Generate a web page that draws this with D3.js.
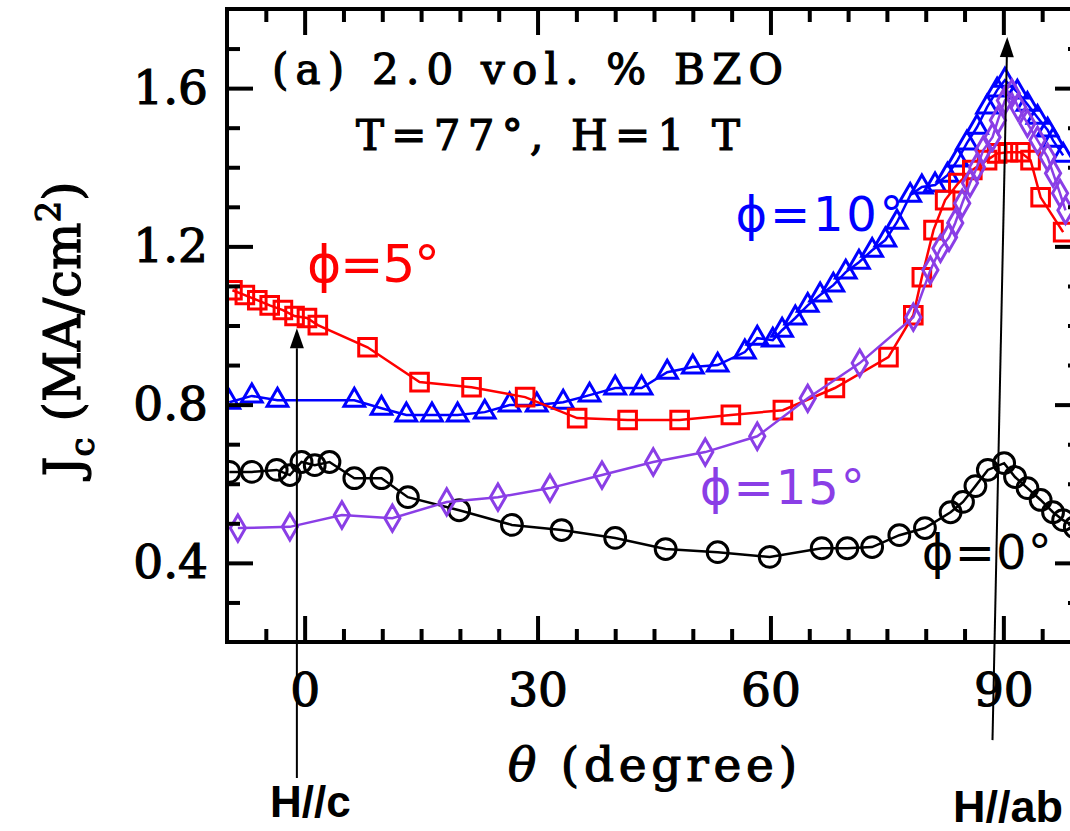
<!DOCTYPE html>
<html>
<head>
<meta charset="utf-8">
<style>
    body { margin: 0; background: #fff; }
    svg { display: block; }
    .axis .domain { display: none; }
    .axis .tick line { stroke: #000; stroke-width: 4; }
    .axis .tick text {
        font-family: 'DejaVu Serif', serif;
        font-size: 47px;
        fill: #000;
        stroke: #000;
        stroke-width: 1.2px;
    }
    .serif { font-family: 'DejaVu Serif', serif; fill: #000; stroke: #000; stroke-width: 1.2px; }
    .phi { font-family: 'DejaVu Sans', sans-serif; font-size: 48px; }
    .hlabel { font-family: 'Liberation Sans', Arial, sans-serif; font-weight: bold; font-size: 44px; fill: #000; }
</style>
</head>
<body>
<svg width="1070" height="831"></svg>

<script src="https://d3js.org/d3.v7.min.js"></script>
<script>
// theta (degree) and Jc (MA/cm^2)
let thetaPhi0 = [-9.7, -6.8, -3.6, -1.9, -0.4, 1.3, 3.2, 6.4, 9.9, 13.3, 19.9, 26.7, 33.1, 40.0, 46.5, 53.2, 59.9,
    66.6, 69.9, 73.1, 76.6, 79.9, 83.2, 84.8, 86.4, 88.0, 90.1, 91.5, 93.1, 94.8, 96.4, 97.7, 99.2]
let jcPhi0 = [0.63, 0.63, 0.635, 0.622, 0.655, 0.647, 0.655, 0.614, 0.614, 0.566, 0.533, 0.496, 0.483, 0.463, 0.435, 0.427, 0.415,
    0.437, 0.437, 0.44, 0.47, 0.488, 0.528, 0.554, 0.594, 0.635, 0.652, 0.617, 0.589, 0.559, 0.528, 0.508, 0.49]

let thetaPhi5 = [-9.3, -7.7, -6.1, -4.5, -2.8, -1.3, 0.3, 1.7, 8.1, 14.8, 21.5, 28.4, 35.1, 41.6, 48.3, 54.9, 61.6, 68.3,
    75.2, 78.4, 79.5, 81.0, 82.5, 84.2, 86.0, 87.9, 89.2, 90.6, 92.2, 93.5, 94.8, 97.7]
let jcPhi5 = [1.089, 1.077, 1.064, 1.051, 1.039, 1.024, 1.019, 1.001, 0.945, 0.857, 0.844, 0.819, 0.766, 0.761, 0.761, 0.774, 0.786, 0.842,
    0.92, 1.026, 1.122, 1.241, 1.317, 1.36, 1.393, 1.418, 1.435, 1.438, 1.438, 1.418, 1.324, 1.236]

let thetaPhi10 = [-9.7, -6.8, -3.5, 6.4, 9.9, 13.1, 16.4, 19.7, 23.2, 26.4, 29.9, 33.3, 36.7, 40.0, 43.4, 46.7, 50.0, 53.2,
    56.7, 58.3, 60.3, 61.5, 63.2, 64.8, 66.4, 68.1, 69.7, 71.4, 73.1, 74.8, 76.3, 78.0, 79.5, 81.2, 82.8, 84.1,
    85.3, 86.6, 87.9, 89.2, 90.2, 91.8, 93.1, 94.4, 95.7, 96.4, 97.7]
let jcPhi10 = [0.806, 0.822, 0.811, 0.811, 0.791, 0.774, 0.774, 0.774, 0.781, 0.799, 0.799, 0.806, 0.824, 0.842, 0.842, 0.882, 0.895, 0.9,
    0.933, 0.968, 0.963, 0.988, 1.019, 1.051, 1.077, 1.102, 1.135, 1.16, 1.19, 1.216, 1.261, 1.329, 1.35, 1.355, 1.38, 1.418,
    1.461, 1.501, 1.552, 1.595, 1.62, 1.59, 1.559, 1.526, 1.494, 1.468, 1.43]

let thetaPhi15 = [-8.6, -1.9, 4.8, 11.3, 18.3, 24.9, 31.6, 38.3, 44.9, 51.6, 58.3, 64.8, 71.5, 78.4, 80.6, 81.9, 83.0,
    83.8, 84.7, 85.7, 86.6, 87.4, 88.6, 89.3, 90.2, 91.1, 91.9, 93.1, 94.4, 95.7, 96.4, 97.3, 98.0]
let jcPhi15 = [0.488, 0.491, 0.521, 0.513, 0.554, 0.566, 0.589, 0.622, 0.655, 0.68, 0.72, 0.816, 0.905, 1.021, 1.14, 1.195, 1.223,
    1.259, 1.309, 1.36, 1.4, 1.443, 1.476, 1.519, 1.569, 1.587, 1.552, 1.511, 1.468, 1.425, 1.385, 1.334, 1.291]

let xMajorTicks = [0, 30, 60, 90]
let yMajorTicks = [0.4, 0.8, 1.2, 1.6]

let svg = d3.select("svg")
let margin = { top: 9, left: 227 }
let plotW = 854, plotH = 633

let x = d3.scaleLinear().domain([-10, 100]).range([margin.left, margin.left + plotW])
let y = d3.scaleLinear().domain([0.2, 1.8]).range([margin.top + plotH, margin.top])

let series = [
    { name: "phi0", th: thetaPhi0, jc: jcPhi0, color: "#000000", symbol: d3.symbolCircle, size: 340 },
    { name: "phi10", th: thetaPhi10, jc: jcPhi10, color: "#0000ff", symbol: d3.symbolTriangle, size: 185 },
    { name: "phi5", th: thetaPhi5, jc: jcPhi5, color: "#ff0000", symbol: d3.symbolSquare, size: 310 },
    { name: "phi15", th: thetaPhi15, jc: jcPhi15, color: "#8a3ee6", symbol: d3.symbolDiamond, size: 200 }
]

svg.append("clipPath").attr("id", "plotclip")
    .append("rect")
    .attr("x", x(-10)).attr("y", y(1.8))
    .attr("width", plotW).attr("height", plotH)

let plot = svg.append("g").attr("clip-path", "url(#plotclip)")

let line = d3.line().x(d => x(d[0])).y(d => y(d[1]))

series.forEach(s => {
    let pts = s.th.map((t, i) => [t, s.jc[i]])
    let g = plot.append("g").attr("class", s.name)
    g.append("path")
        .attr("d", line(pts))
        .attr("fill", "none")
        .attr("stroke", s.color)
        .attr("stroke-width", 2.5)
    g.selectAll("path.pt")
        .data(pts)
        .join("path")
        .attr("class", "pt")
        .attr("transform", d => `translate(${x(d[0])},${y(d[1])})`)
        .attr("d", d3.symbol().type(s.symbol).size(s.size))
        .attr("fill", "none")
        .attr("stroke", s.color)
        .attr("stroke-width", 3)
})

// axes: ticks pointing inwards on all four sides
let xMinor = d3.range(-5, 100, 5).filter(v => v % 30 != 0)
let yMinor = d3.range(0.3, 1.75, 0.1).filter(v => Math.abs(v * 10 % 4) > 0.01 && Math.abs(v * 10 % 4 - 4) > 0.01)

svg.append("g").attr("class", "axis")
    .attr("transform", `translate(0,${y(0.2)})`)
    .call(d3.axisBottom(x).tickValues(xMinor).tickSize(-13).tickFormat(""))
svg.append("g").attr("class", "axis")
    .attr("transform", `translate(0,${y(0.2)})`)
    .call(d3.axisBottom(x).tickValues(xMajorTicks).tickSize(-26).tickPadding(31).tickFormat(d3.format("d")))
svg.append("g").attr("class", "axis")
    .attr("transform", `translate(0,${y(1.8)})`)
    .call(d3.axisTop(x).tickValues(xMinor).tickSize(-13).tickFormat(""))
svg.append("g").attr("class", "axis")
    .attr("transform", `translate(0,${y(1.8)})`)
    .call(d3.axisTop(x).tickValues(xMajorTicks).tickSize(-26).tickFormat(""))

svg.append("g").attr("class", "axis")
    .attr("transform", `translate(${x(-10)},0)`)
    .call(d3.axisLeft(y).tickValues(yMinor).tickSize(-13).tickFormat(""))
svg.append("g").attr("class", "axis")
    .attr("transform", `translate(${x(-10)},0)`)
    .call(d3.axisLeft(y).tickValues(yMajorTicks).tickSize(-26).tickPadding(19).tickFormat(d3.format(".1f")))
svg.append("g").attr("class", "axis")
    .attr("transform", `translate(${x(100)},0)`)
    .call(d3.axisRight(y).tickValues(yMinor).tickSize(-13).tickFormat(""))
svg.append("g").attr("class", "axis")
    .attr("transform", `translate(${x(100)},0)`)
    .call(d3.axisRight(y).tickValues(yMajorTicks).tickSize(-26).tickFormat(""))

svg.append("rect")
    .attr("x", x(-10)).attr("y", y(1.8))
    .attr("width", plotW).attr("height", plotH)
    .attr("fill", "none").attr("stroke", "#000").attr("stroke-width", 4)

// title lines
svg.append("text").attr("class", "serif")
    .attr("x", 272).attr("y", 84)
    .style("font-size", "42px")
    .attr("textLength", 511).attr("lengthAdjust", "spacing")
    .text("(a) 2.0 vol. % BZO")
svg.append("text").attr("class", "serif")
    .attr("x", 356).attr("y", 150)
    .style("font-size", "42px")
    .attr("textLength", 384).attr("lengthAdjust", "spacing")
    .text("T=77°, H=1 T")

// axis titles
svg.append("text").attr("class", "serif")
    .attr("x", 508).attr("y", 781)
    .style("font-size", "47px")
    .attr("textLength", 289).attr("lengthAdjust", "spacing")
    .html('<tspan font-style="italic">θ</tspan> (degree)')

let ylab = svg.append("text").attr("class", "serif")
    .attr("transform", "translate(80,329) rotate(-90)")
    .attr("text-anchor", "middle")
    .style("font-size", "50px")
ylab.append("tspan").text("J")
ylab.append("tspan").attr("dy", 14).style("font-size", "34px").text("c")
ylab.append("tspan").attr("dy", -14).text(" (MA/cm")
ylab.append("tspan").attr("dy", -20).style("font-size", "34px").text("2")
ylab.append("tspan").attr("dy", 20).text(")")

// curve labels
let curveLabels = [
    { text: "ϕ=5°", th: 0.3, jc: 1.11, len: 133, color: "#ff0000", size: 52 },
    { text: "ϕ=10°", th: 55.5, jc: 1.24, len: 168, color: "#0000ff", size: 48 },
    { text: "ϕ=15°", th: 50.9, jc: 0.55, len: 165, color: "#8a3ee6", size: 48 },
    { text: "ϕ=0°", th: 79.5, jc: 0.385, len: 130, color: "#000000", size: 48 }
]
svg.selectAll("text.curve")
    .data(curveLabels)
    .join("text")
    .attr("class", "curve phi")
    .attr("x", d => x(d.th))
    .attr("y", d => y(d.jc))
    .attr("fill", d => d.color)
    .style("font-size", d => d.size + "px")
    .attr("textLength", d => d.len)
    .attr("lengthAdjust", "spacing")
    .text(d => d.text)

// H//c and H//ab arrows
let arrows = [
    { th0: -1.0, jc0: -0.144, th1: -1.0, jc1: 0.993 },
    { th0: 88.6, jc0: -0.048, th1: 90.5, jc1: 1.729 }
]
arrows.forEach(a => {
    let x0 = x(a.th0), y0 = y(a.jc0), x1 = x(a.th1), y1 = y(a.jc1)
    let ang = Math.atan2(y1 - y0, x1 - x0)
    let L = 20, W = 7
    let bx = x1 - L * Math.cos(ang), by = y1 - L * Math.sin(ang)
    svg.append("line")
        .attr("x1", x0).attr("y1", y0).attr("x2", bx).attr("y2", by)
        .attr("stroke", "#000").attr("stroke-width", 2)
    svg.append("path")
        .attr("d", `M${x1},${y1} L${bx + W * Math.sin(ang)},${by - W * Math.cos(ang)} L${bx - W * Math.sin(ang)},${by + W * Math.cos(ang)} Z`)
        .attr("fill", "#000")
})

svg.append("text").attr("class", "hlabel").attr("x", 270).attr("y", 817).text("H//c")
svg.append("text").attr("class", "hlabel").attr("x", 953).attr("y", 822)
    .attr("textLength", 110).attr("lengthAdjust", "spacingAndGlyphs").text("H//ab")
</script>
</body>
</html>
